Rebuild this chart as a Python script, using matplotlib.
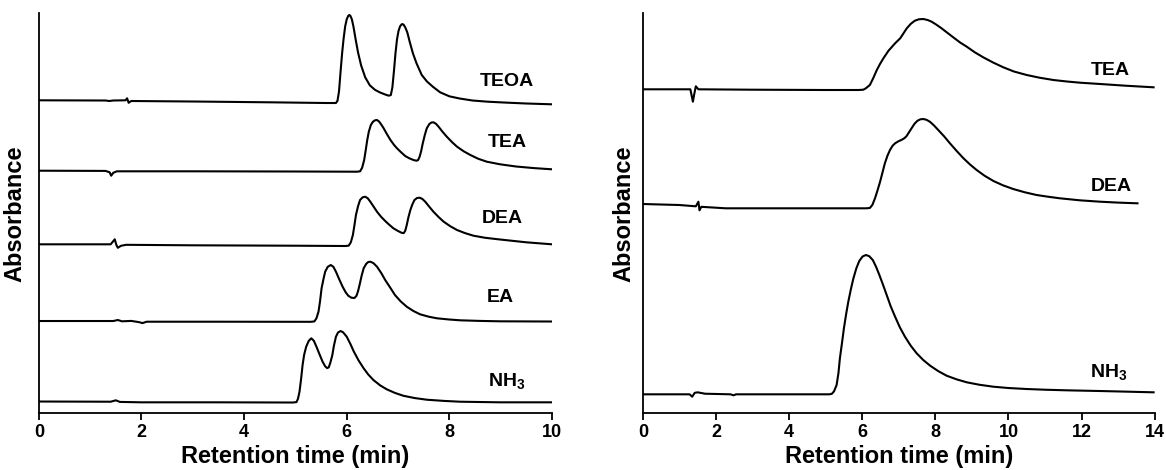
#!/usr/bin/env python3

import matplotlib
matplotlib.use('Agg')
import matplotlib.pyplot as plt

# ---- left panel: chromatograms, stacked (arbitrary absorbance units) ----
teoa_t = [0.0, 1.30, 1.37, 1.45, 1.69, 1.72, 1.75, 1.80, 3.0, 4.5, 5.60, 5.79, 5.82, 5.85, 5.88, 5.91, 5.94,
          5.97, 6.00, 6.03, 6.05, 6.07, 6.10, 6.13, 6.17, 6.22, 6.28, 6.36, 6.45, 6.55, 6.65, 6.75, 6.82,
          6.86, 6.89, 6.92, 6.95, 6.98, 7.01, 7.04, 7.07, 7.09, 7.11, 7.14, 7.18, 7.23, 7.29, 7.36, 7.46,
          7.56, 7.68, 7.82, 8.00, 8.20, 8.45, 8.75, 9.10, 9.50, 10.0]
teoa_v = [313.0, 312.8, 312.3, 312.8, 313.0, 315.0, 310.5, 312.3, 311.8, 311.0, 310.3, 310.3, 312.5, 322.0, 341.6, 360.0, 375.0,
          387.0, 394.0, 397.5, 398.3, 397.6, 394.0, 387.0, 375.0, 361.0, 348.0, 336.0, 328.0, 323.5, 320.8, 318.8, 317.6,
          318.3, 326.0, 342.0, 360.0, 374.0, 382.5, 387.0, 389.0, 389.2, 388.5, 386.0, 381.0, 371.0, 360.0, 350.0, 338.5,
          332.0, 326.5, 321.0, 317.0, 314.8, 312.8, 311.6, 310.7, 309.8, 309.0]

tea_t = [0.0, 1.30, 1.38, 1.41, 1.45, 1.52, 3.0, 5.0, 6.20, 6.26, 6.30, 6.34, 6.37, 6.40, 6.43, 6.47, 6.51,
         6.55, 6.59, 6.63, 6.67, 6.72, 6.78, 6.85, 6.92, 6.98, 7.06, 7.14, 7.22, 7.30, 7.36, 7.39, 7.42,
         7.45, 7.48, 7.52, 7.56, 7.61, 7.65, 7.69, 7.74, 7.79, 7.86, 7.95, 8.05, 8.15, 8.28, 8.41, 8.56,
         8.73, 8.99, 9.30, 9.65, 10.0]
tea_v = [242.6, 242.4, 241.0, 237.6, 240.5, 242.0, 242.0, 241.8, 241.6, 242.0, 245.5, 253.3, 263.0, 273.3, 281.5, 288.3, 291.5,
         293.0, 293.3, 291.8, 289.0, 285.0, 279.5, 273.5, 268.5, 265.0, 261.0, 257.3, 255.0, 253.3, 252.6, 253.2, 256.5,
         262.0, 269.5, 278.0, 285.0, 289.3, 290.8, 291.0, 289.5, 286.6, 282.0, 276.6, 271.3, 266.6, 262.0, 258.3, 254.6,
         251.6, 249.0, 246.8, 245.2, 244.0]

dea_t = [0.0, 1.40, 1.48, 1.51, 1.54, 1.60, 1.70, 3.0, 5.0, 5.98, 6.04, 6.08, 6.12, 6.15, 6.18, 6.22, 6.26,
         6.31, 6.36, 6.41, 6.46, 6.52, 6.59, 6.67, 6.75, 6.83, 6.91, 7.00, 7.07, 7.11, 7.14, 7.17, 7.20,
         7.24, 7.28, 7.32, 7.37, 7.42, 7.47, 7.53, 7.61, 7.69, 7.79, 7.89, 8.02, 8.15, 8.30, 8.47, 8.70,
         8.99, 9.50, 10.0]
dea_v = [169.0, 169.0, 174.0, 168.5, 165.5, 167.5, 168.5, 168.0, 167.6, 167.3, 167.7, 171.0, 178.3, 188.0, 198.3, 207.0, 213.3,
         216.0, 216.6, 215.0, 211.6, 207.0, 201.6, 196.5, 192.3, 188.5, 185.0, 182.3, 180.5, 180.2, 182.5, 188.3, 195.5,
         203.3, 209.0, 213.3, 215.3, 215.6, 214.5, 211.6, 206.5, 201.6, 196.3, 191.6, 187.0, 183.3, 180.3, 177.6, 175.5,
         173.8, 171.0, 169.0]

ea_t = [0.0, 1.45, 1.54, 1.62, 1.80, 1.95, 2.02, 2.10, 3.5, 5.30, 5.37, 5.41, 5.45, 5.48, 5.51, 5.55, 5.58,
        5.63, 5.69, 5.74, 5.79, 5.85, 5.92, 5.98, 6.03, 6.09, 6.15, 6.19, 6.22, 6.25, 6.29, 6.33, 6.38,
        6.42, 6.46, 6.52, 6.59, 6.67, 6.75, 6.85, 6.94, 7.05, 7.17, 7.30, 7.43, 7.60, 7.76, 8.00, 8.21,
        8.60, 8.99, 10.0]
ea_v = [92.3, 92.3, 93.3, 92.0, 92.4, 91.2, 90.2, 91.6, 91.6, 91.5, 91.9, 95.0, 101.6, 112.0, 125.0, 135.0, 141.6,
        146.5, 148.3, 146.5, 141.6, 134.5, 126.6, 121.0, 117.6, 115.6, 115.3, 117.5, 122.0, 128.3, 137.5, 145.0, 149.5,
        151.3, 151.6, 150.2, 146.6, 140.5, 133.3, 125.5, 118.3, 112.0, 106.6, 102.3, 99.0, 96.6, 95.0, 93.8, 93.0,
        92.4, 92.0, 91.8]

nh3_t = [0.0, 1.40, 1.50, 1.58, 2.0, 3.5, 4.95, 5.02, 5.05, 5.08, 5.11, 5.14, 5.17, 5.21, 5.26, 5.31, 5.36,
         5.41, 5.47, 5.53, 5.58, 5.62, 5.65, 5.68, 5.72, 5.75, 5.79, 5.83, 5.88, 5.93, 6.00, 6.07, 6.14,
         6.23, 6.33, 6.42, 6.52, 6.65, 6.78, 6.94, 7.10, 7.32, 7.56, 7.90, 8.21, 8.99, 10.0]
nh3_v = [11.8, 11.6, 13.0, 11.4, 11.0, 11.0, 10.8, 11.2, 14.5, 21.6, 34.0, 48.3, 58.5, 66.6, 72.5, 75.0, 72.5,
         66.6, 59.0, 51.6, 47.0, 45.2, 46.0, 50.5, 58.3, 67.5, 76.6, 80.8, 82.3, 81.0, 76.6, 69.5, 61.6,
         53.0, 45.0, 38.8, 33.3, 28.0, 24.0, 20.4, 17.6, 15.3, 13.6, 12.4, 11.6, 11.0, 11.0]

# ---- right panel ----
tea2_t = [0.0, 1.30, 1.37, 1.40, 1.45, 1.52, 3.0, 5.0, 5.90, 6.03, 6.10, 6.21, 6.30, 6.40, 6.49, 6.58, 6.72,
          6.90, 7.04, 7.13, 7.22, 7.33, 7.44, 7.55, 7.67, 7.79, 7.90, 8.03, 8.17, 8.33, 8.49, 8.67, 8.86,
          9.08, 9.31, 9.58, 9.86, 10.15, 10.5, 10.85, 11.23, 11.6, 11.96, 12.51, 13.2, 13.97]
tea2_v = [324.0, 324.0, 311.6, 318.0, 327.0, 324.0, 323.6, 323.3, 323.3, 323.6, 325.0, 328.3, 335.0, 343.3, 349.5, 355.0, 362.6,
          370.0, 375.0, 380.0, 385.0, 389.5, 392.6, 394.0, 394.3, 393.3, 391.6, 388.6, 385.0, 380.5, 376.0, 371.0, 366.6,
          361.0, 356.0, 350.8, 346.0, 341.8, 338.3, 335.6, 333.3, 331.8, 330.6, 329.3, 327.6, 326.0]

dea2_t = [0.0, 1.00, 1.45, 1.52, 1.55, 1.60, 2.27, 4.0, 6.10, 6.21, 6.28, 6.35, 6.42, 6.49, 6.56, 6.62, 6.69,
          6.76, 6.83, 6.90, 6.99, 7.08, 7.15, 7.21, 7.28, 7.35, 7.43, 7.51, 7.59, 7.67, 7.76, 7.85, 7.96,
          8.08, 8.24, 8.40, 8.58, 8.77, 8.95, 9.13, 9.35, 9.59, 9.85, 10.13, 10.45, 10.77, 11.1, 11.41, 11.95,
          12.51, 13.0, 13.53]
dea2_v = [209.3, 208.3, 207.0, 211.6, 203.0, 206.5, 205.0, 205.0, 205.0, 205.3, 208.5, 215.0, 223.0, 231.6, 241.5, 250.0, 257.5,
          263.3, 267.5, 270.0, 272.0, 273.5, 275.0, 277.0, 281.0, 285.0, 289.5, 292.5, 294.0, 294.3, 293.5, 291.6, 288.0,
          283.3, 277.0, 270.0, 262.5, 255.0, 248.8, 243.3, 237.5, 232.3, 228.0, 224.3, 221.0, 218.3, 216.5, 215.0, 213.0,
          211.6, 210.7, 210.0]

nh3b_t = [0.0, 1.28, 1.35, 1.42, 1.50, 1.70, 2.40, 2.48, 2.55, 4.0, 5.10, 5.17, 5.23, 5.30, 5.35, 5.39, 5.45,
          5.50, 5.56, 5.62, 5.69, 5.76, 5.84, 5.92, 6.01, 6.10, 6.19, 6.29, 6.38, 6.47, 6.57, 6.67, 6.78,
          6.90, 7.03, 7.17, 7.33, 7.49, 7.67, 7.86, 8.08, 8.31, 8.58, 8.86, 9.2, 9.59, 10.0, 10.5, 11.0,
          11.59, 12.5, 13.2, 13.97]
nh3b_v = [19.0, 19.0, 16.6, 20.5, 21.0, 19.6, 19.0, 18.0, 19.0, 19.0, 19.0, 19.5, 22.0, 28.3, 40.0, 55.0, 71.0,
          85.0, 99.0, 111.6, 124.0, 135.0, 145.0, 152.3, 156.8, 158.3, 157.2, 153.3, 146.5, 138.3, 128.5, 118.3, 107.0,
          96.6, 86.0, 76.6, 67.5, 60.0, 53.3, 47.6, 42.2, 37.6, 34.0, 31.0, 28.6, 26.6, 25.3, 24.3, 23.6,
          23.0, 22.3, 21.7, 21.0]

left_names = ['TEOA', 'TEA', 'DEA', 'EA', r'NH$_\mathbf{3}$']
left_label_t = [9.13, 9.13, 9.03, 8.99, 9.11]
left_label_v = [332.0, 270.6, 195.0, 115.6, 31.6]

right_names = ['TEA', 'DEA', r'NH$_\mathbf{3}$']
right_label_t = [12.79, 12.81, 12.74]
right_label_v = [342.6, 226.6, 40.0]

plt.rcParams['font.family'] = ['Liberation Sans', 'DejaVu Sans']
plt.rcParams['font.weight'] = 'bold'
plt.rcParams['mathtext.fontset'] = 'custom'
plt.rcParams['mathtext.rm'] = 'Liberation Sans:bold'
plt.rcParams['mathtext.bf'] = 'Liberation Sans:bold'


def style_axes(ax, xmax):
    for side in ['top', 'right']:
        ax.spines[side].set_visible(False)
    for side in ['left', 'bottom']:
        ax.spines[side].set_linewidth(1.3)
    ax.set_xlim(0, xmax)
    ax.set_ylim(0, 400)
    ax.set_yticks([])
    ax.set_xticks(range(0, xmax + 1, 2))
    ax.tick_params(axis='x', direction='out', length=5, width=1.3, labelsize=13, pad=3)
    for lab in ax.get_xticklabels():
        lab.set_fontweight('bold')
    ax.set_xlabel('Retention time (min)', fontsize=17, fontweight='bold')
    ax.set_ylabel('Absorbance', fontsize=17, fontweight='bold')


fig = plt.figure(figsize=(11.66, 4.70), dpi=100)
ax1 = fig.add_axes([0.0333, 0.1206, 0.4401, 0.8511])
ax2 = fig.add_axes([0.5513, 0.1206, 0.4390, 0.8511])

for t, v in [(teoa_t, teoa_v), (tea_t, tea_v), (dea_t, dea_v), (ea_t, ea_v), (nh3_t, nh3_v)]:
    ax1.plot(t, v, color='black', lw=1.5, solid_joinstyle='round')
for name, tx, ty in zip(left_names, left_label_t, left_label_v):
    ax1.text(tx, ty, name, ha='center', va='center', fontsize=14, fontweight='bold')

for t, v in [(tea2_t, tea2_v), (dea2_t, dea2_v), (nh3b_t, nh3b_v)]:
    ax2.plot(t, v, color='black', lw=1.5, solid_joinstyle='round')
for name, tx, ty in zip(right_names, right_label_t, right_label_v):
    ax2.text(tx, ty, name, ha='center', va='center', fontsize=14, fontweight='bold')

style_axes(ax1, 10)
style_axes(ax2, 14)
ax1.xaxis.set_label_coords(0.5, -0.078)
ax2.xaxis.set_label_coords(0.5, -0.078)
ax1.yaxis.set_label_coords(-0.024, 0.5)
ax2.yaxis.set_label_coords(-0.014, 0.5)

fig.savefig('out.png', dpi=100)
